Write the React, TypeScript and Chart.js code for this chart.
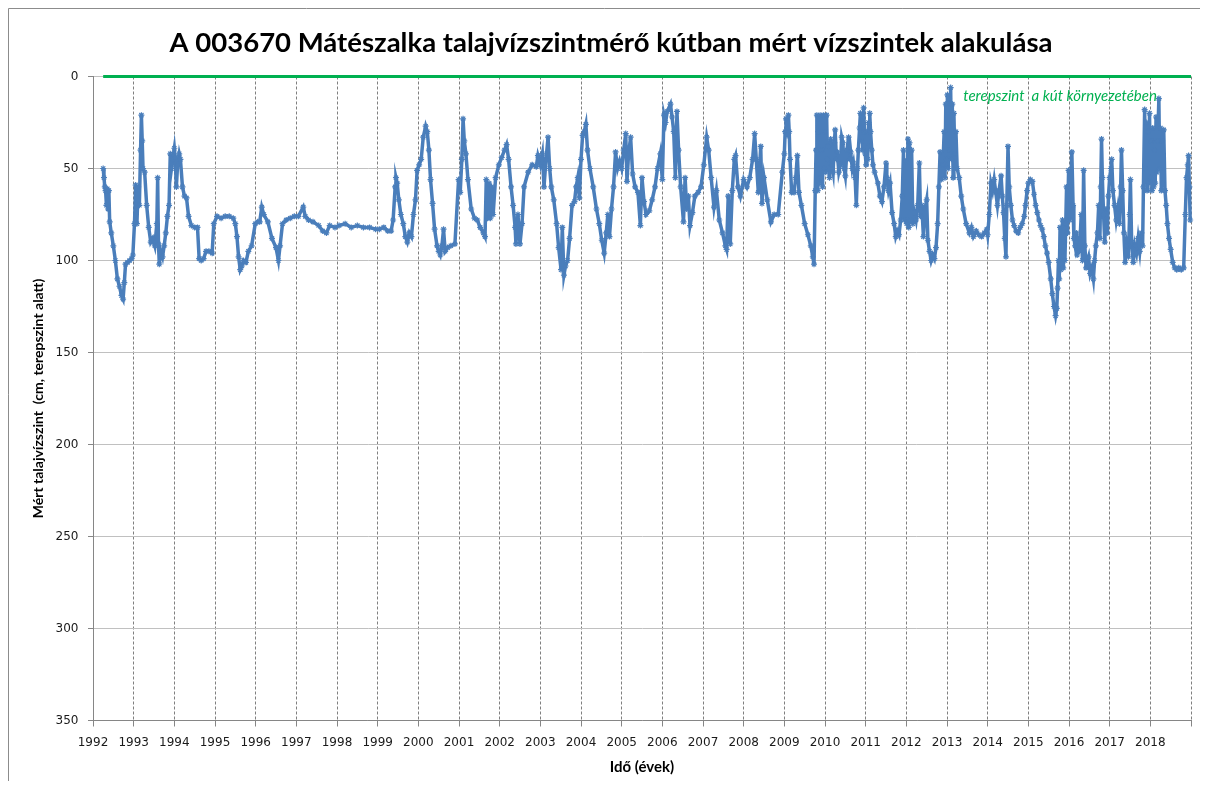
import React, { useEffect, useRef } from 'react';
import { Chart, registerables } from 'chart.js';

Chart.register(...registerables);

const chartTitle = 'A 003670 Mátészalka talajvízszintmérő kútban mért vízszintek alakulása';
const yAxisTitle = 'Mért talajvízszint  (cm, terepszint alatt)';
const xAxisTitle = 'Idő (évek)';
const groundLabel = 'terepszint  a kút környezetében';
const groundLabelYear = 2013.4;
const groundLabelDepth = 10.5;

const yearTicks = [
  1992, 1993, 1994, 1995, 1996, 1997, 1998, 1999, 2000, 2001, 2002, 2003, 2004, 2005,
  2006, 2007, 2008, 2009, 2010, 2011, 2012, 2013, 2014, 2015, 2016, 2017, 2018, 2019,
];
const depthTicks = [0, 50, 100, 150, 200, 250, 300, 350];

const groundYears = [1992.25, 2019];
const groundDepths = [0, 0];

// Period 1992 - 2000
const years1992to2000 = [
  1992.25, 1992.27, 1992.29, 1992.31, 1992.33, 1992.35, 1992.37, 1992.39, 1992.41, 1992.45,
  1992.5, 1992.55, 1992.6, 1992.65, 1992.7, 1992.74, 1992.77, 1992.8, 1992.85, 1992.9,
  1992.95, 1992.98, 1993.02, 1993.05, 1993.08, 1993.11, 1993.14, 1993.17, 1993.19, 1993.21,
  1993.23, 1993.27, 1993.32, 1993.37, 1993.42, 1993.47, 1993.52, 1993.57, 1993.59, 1993.61,
  1993.63, 1993.67, 1993.71, 1993.75, 1993.79, 1993.83, 1993.87, 1993.9, 1993.93, 1993.96,
  1994.0, 1994.02, 1994.05, 1994.08, 1994.12, 1994.15, 1994.2, 1994.25, 1994.3, 1994.35,
  1994.42, 1994.5, 1994.57, 1994.61, 1994.66, 1994.72, 1994.78, 1994.85, 1994.93, 1994.97,
  1995.05, 1995.15, 1995.25, 1995.35, 1995.45, 1995.5, 1995.54, 1995.58, 1995.62, 1995.66,
  1995.7, 1995.76, 1995.82, 1995.9, 1995.99, 1996.05, 1996.1, 1996.15, 1996.2, 1996.3,
  1996.4, 1996.5, 1996.56, 1996.6, 1996.66, 1996.75, 1996.85, 1996.95, 1997.05, 1997.17,
  1997.22, 1997.3, 1997.41, 1997.55, 1997.65, 1997.74, 1997.82, 1997.95, 1998.05, 1998.2,
  1998.35, 1998.5, 1998.65, 1998.8, 1998.95, 1999.04, 1999.15, 1999.25, 1999.33, 1999.38,
  1999.43, 1999.45, 1999.48, 1999.52, 1999.57, 1999.63, 1999.68, 1999.73, 1999.78, 1999.83,
  1999.88, 1999.93, 1999.97,
];
const depths1992to2000 = [
  50, 55, 60, 62, 70, 61, 72, 62, 79, 85,
  92, 100, 110, 114, 119, 121, 112, 102, 101, 100,
  99, 97, 80, 59, 80, 60, 70, 40, 21, 35,
  50, 52, 70, 82, 90, 88, 92, 80, 55, 91,
  102, 95, 98, 92, 85, 76, 70, 42, 50, 45,
  39, 44, 60, 48, 42, 45, 60, 65, 66, 76,
  81, 82, 82, 99, 100, 99, 95, 95, 96, 80,
  76, 77, 76, 76, 77, 80, 87, 98, 105, 103,
  100, 101, 95, 92, 80, 79, 79, 71, 75, 79,
  88, 93, 100, 92, 80, 78, 77, 76, 76, 71,
  76, 78, 79, 81, 84, 85, 81, 82, 81, 80,
  82, 81, 82, 82, 83, 83, 82, 84, 84, 78,
  60, 55, 58, 67, 75, 80, 87, 90, 85, 87,
  75, 67, 51,
];

// Period 2000 - 2009
const years2000to2009 = [
  2000.02, 2000.07, 2000.12, 2000.18, 2000.22, 2000.26, 2000.3,
  2000.35, 2000.4, 2000.46, 2000.5, 2000.54, 2000.58, 2000.62, 2000.66, 2000.72, 2000.8,
  2000.9, 2000.99, 2001.03, 2001.07, 2001.1, 2001.13, 2001.17, 2001.22, 2001.3, 2001.38,
  2001.45, 2001.52, 2001.6, 2001.64, 2001.67, 2001.7, 2001.74, 2001.77, 2001.8, 2001.84,
  2001.9, 2001.98, 2002.05, 2002.12, 2002.17, 2002.22, 2002.28, 2002.33, 2002.38, 2002.4,
  2002.45, 2002.5, 2002.55, 2002.6, 2002.7, 2002.8, 2002.9, 2002.94, 2003.0, 2003.05,
  2003.09, 2003.14, 2003.19, 2003.23, 2003.27, 2003.33, 2003.4, 2003.45, 2003.51, 2003.54,
  2003.58, 2003.62, 2003.67, 2003.72, 2003.78, 2003.84, 2003.88, 2003.92, 2003.96, 2004.0,
  2004.04, 2004.08, 2004.12, 2004.16, 2004.22, 2004.3, 2004.38, 2004.45, 2004.51, 2004.57,
  2004.62, 2004.66, 2004.7, 2004.75, 2004.8, 2004.85, 2004.9, 2004.95, 2005.0, 2005.05,
  2005.1, 2005.13, 2005.17, 2005.22, 2005.27, 2005.33, 2005.4, 2005.46, 2005.5, 2005.55,
  2005.6, 2005.68, 2005.75, 2005.82, 2005.88, 2005.95, 2006.0, 2006.04, 2006.08, 2006.12,
  2006.2, 2006.24, 2006.28, 2006.32, 2006.36, 2006.4, 2006.45, 2006.52, 2006.56, 2006.6,
  2006.64, 2006.68, 2006.74, 2006.8, 2006.88, 2006.95, 2007.02, 2007.09, 2007.14, 2007.2,
  2007.27, 2007.33, 2007.4, 2007.48, 2007.55, 2007.58, 2007.62, 2007.67, 2007.72, 2007.77,
  2007.8, 2007.86, 2007.92, 2008.0, 2008.08, 2008.15, 2008.22, 2008.27, 2008.31, 2008.36,
  2008.39, 2008.42, 2008.45, 2008.5, 2008.58, 2008.67, 2008.75, 2008.85,
];
const depths2000to2009 = [
  48, 45, 33, 27, 30, 40, 56,
  69, 83, 92, 95, 97, 92, 83, 95, 93, 92,
  91, 56, 63, 45, 23, 35, 42, 56, 72, 77,
  78, 82, 85, 87, 56, 77, 58, 77, 60, 75,
  55, 48, 44, 40, 37, 45, 60, 70, 82, 91,
  75, 91, 80, 60, 52, 48, 49, 43, 48, 42,
  60, 45, 33, 50, 60, 67, 80, 93, 105, 82,
  108, 103, 100, 88, 70, 68, 60, 55, 66, 45,
  32, 30, 26, 40, 50, 60, 72, 80, 89, 96,
  85, 75, 87, 72, 60, 41, 50, 46, 50, 40,
  31, 57, 42, 33, 53, 60, 63, 81, 55, 68,
  75, 73, 67, 60, 50, 42, 56, 21, 25, 19,
  15, 22, 30, 55, 19, 40, 60, 79, 55, 72,
  65, 81, 74, 65, 63, 60, 48, 33, 40, 55,
  71, 62, 78, 85, 92, 94, 65, 91, 62, 45,
  43, 60, 65, 56, 60, 55, 45, 31, 45, 63,
  50, 38, 69, 55, 67, 79, 75, 75,
];

// Period 2009 - 2014
const years2009to2014 = [
  2008.95, 2009.0, 2009.02, 2009.04, 2009.07, 2009.1, 2009.12, 2009.14, 2009.18, 2009.24,
  2009.28, 2009.32, 2009.36, 2009.42, 2009.5, 2009.58, 2009.65, 2009.7, 2009.73, 2009.76,
  2009.78, 2009.8, 2009.82, 2009.84, 2009.86, 2009.88, 2009.9, 2009.92, 2009.94, 2009.96,
  2009.98, 2010.0, 2010.02, 2010.04, 2010.06, 2010.08, 2010.11, 2010.14, 2010.17, 2010.2,
  2010.23, 2010.25, 2010.28, 2010.3, 2010.34, 2010.38, 2010.41, 2010.44, 2010.47, 2010.5,
  2010.54, 2010.58, 2010.61, 2010.63, 2010.67, 2010.7, 2010.74, 2010.77, 2010.8, 2010.82,
  2010.85, 2010.87, 2010.89, 2010.91, 2010.93, 2010.95, 2010.97, 2010.99, 2011.01, 2011.03,
  2011.05, 2011.07, 2011.09, 2011.1, 2011.12, 2011.15, 2011.18, 2011.22, 2011.3, 2011.35,
  2011.4, 2011.45, 2011.5, 2011.52, 2011.56, 2011.6, 2011.65, 2011.7, 2011.74, 2011.78,
  2011.82, 2011.86, 2011.9, 2011.93, 2011.95, 2011.98, 2012.01, 2012.04, 2012.06, 2012.08,
  2012.1, 2012.13, 2012.16, 2012.2, 2012.24, 2012.28, 2012.32, 2012.35, 2012.38, 2012.42,
  2012.46, 2012.5, 2012.53, 2012.57, 2012.61, 2012.65, 2012.69, 2012.73, 2012.77, 2012.8,
  2012.83, 2012.86, 2012.9, 2012.93, 2012.95, 2012.97, 2012.99, 2013.01, 2013.03, 2013.05,
  2013.07, 2013.09, 2013.11, 2013.13, 2013.15, 2013.17, 2013.19, 2013.22, 2013.25, 2013.3,
  2013.35, 2013.4, 2013.47, 2013.55, 2013.6, 2013.65, 2013.72, 2013.78, 2013.85, 2013.92,
  2013.98,
];
const depths2009to2014 = [
  52, 42, 30, 23, 32, 21, 30, 45, 63, 63,
  55, 43, 63, 70, 80, 86, 92, 98, 102, 62,
  40, 21, 62, 30, 58, 21, 55, 40, 60, 21,
  50, 30, 52, 21, 45, 38, 55, 34, 48, 52,
  36, 29, 45, 41, 52, 48, 33, 36, 50, 54,
  40, 33, 45, 41, 50, 47, 55, 70, 50, 40,
  28, 20, 35, 22, 40, 17, 30, 42, 48, 30,
  45, 25, 38, 20, 30, 40, 48, 52, 58, 65,
  68, 60, 47, 55, 62, 58, 74, 80, 87, 84,
  86, 78, 65, 40, 78, 46, 80, 34, 82, 36,
  78, 40, 80, 74, 78, 70, 47, 76, 70, 87,
  72, 67, 89, 95, 100, 97, 99, 93, 80, 60,
  41, 56, 48, 30, 55, 15, 45, 10, 50, 12,
  40, 6, 45, 15, 55, 20, 42, 30, 50, 55,
  65, 72, 80, 85, 82, 87, 84, 86, 87, 85,
  83,
];

// Period 2014 - 2019
const years2014to2019 = [
  2014.0, 2014.04, 2014.08, 2014.12, 2014.16, 2014.2, 2014.24, 2014.28, 2014.33, 2014.36,
  2014.39, 2014.42, 2014.45, 2014.47, 2014.5, 2014.53, 2014.57, 2014.61, 2014.65, 2014.7,
  2014.75, 2014.8, 2014.85, 2014.9, 2014.93, 2014.97, 2015.0, 2015.05, 2015.1, 2015.14,
  2015.18, 2015.22, 2015.26, 2015.3, 2015.34, 2015.38, 2015.42, 2015.46, 2015.5, 2015.55,
  2015.59, 2015.63, 2015.67, 2015.7, 2015.72, 2015.74, 2015.76, 2015.78, 2015.8, 2015.82,
  2015.84, 2015.86, 2015.88, 2015.9, 2015.92, 2015.94, 2015.96, 2015.99, 2016.02, 2016.04,
  2016.07, 2016.1, 2016.12, 2016.15, 2016.18, 2016.2, 2016.23, 2016.26, 2016.3, 2016.33,
  2016.36, 2016.39, 2016.42, 2016.44, 2016.48, 2016.52, 2016.56, 2016.6, 2016.63, 2016.66,
  2016.7, 2016.73, 2016.76, 2016.78, 2016.8, 2016.82, 2016.85, 2016.88, 2016.91, 2016.94,
  2016.97, 2017.0, 2017.03, 2017.05, 2017.08, 2017.12, 2017.16, 2017.2, 2017.24, 2017.27,
  2017.29, 2017.32, 2017.35, 2017.38, 2017.42, 2017.46, 2017.49, 2017.51, 2017.54, 2017.58,
  2017.62, 2017.66, 2017.7, 2017.74, 2017.78, 2017.81, 2017.83, 2017.86, 2017.88, 2017.9,
  2017.92, 2017.94, 2017.96, 2017.98, 2018.0, 2018.02, 2018.04, 2018.06, 2018.08, 2018.1,
  2018.12, 2018.14, 2018.16, 2018.18, 2018.21, 2018.23, 2018.25, 2018.27, 2018.29, 2018.31,
  2018.33, 2018.36, 2018.39, 2018.42, 2018.46, 2018.5, 2018.55, 2018.6, 2018.65, 2018.7,
  2018.76, 2018.82, 2018.86, 2018.89, 2018.92, 2018.94, 2018.96, 2018.98,
];
const depths2014to2019 = [
  86, 75, 58, 62, 56, 63, 70, 62, 54, 65,
  74, 88, 98, 70, 38, 60, 70, 78, 81, 84,
  85, 82, 80, 76, 70, 62, 58, 56, 57, 64,
  70, 74, 78, 81, 83, 87, 92, 96, 101, 110,
  118, 125, 130, 126, 115, 100, 110, 82, 105, 95,
  78, 104, 90, 100, 80, 60, 85, 51, 78, 60,
  41, 70, 88, 92, 85, 97, 88, 95, 75, 100,
  51, 92, 104, 101, 98, 107, 104, 110, 100, 92,
  85, 70, 88, 60, 34, 55, 75, 90, 72, 85,
  65, 55, 50, 45, 62, 70, 78, 72, 80, 60,
  40, 62, 85, 101, 92, 98, 75, 56, 90, 101,
  92, 96, 88, 95, 85, 92, 60, 18, 50, 25,
  62, 30, 58, 20, 55, 35, 62, 28, 60, 40,
  58, 22, 52, 35, 12, 50, 28, 62, 35, 58,
  29, 62, 70, 80, 88, 94, 101, 104, 105, 104,
  105, 104, 75, 55, 48, 43, 60, 78,
];

const sampleYears = [...years1992to2000, ...years2000to2009, ...years2009to2014, ...years2014to2019];
const depthValues = [...depths1992to2000, ...depths2000to2009, ...depths2009to2014, ...depths2014to2019];

const framePlugin = {
  id: 'frameAndLabels',
  beforeDraw(chart: any) {
    const { ctx, width, height } = chart;
    ctx.save();
    ctx.fillStyle = '#ffffff';
    ctx.fillRect(0, 0, width, height);
    ctx.strokeStyle = '#8c8c8c';
    ctx.lineWidth = 1;
    ctx.beginPath();
    ctx.moveTo(0.5, height);
    ctx.lineTo(0.5, 0.5);
    ctx.lineTo(width, 0.5);
    ctx.stroke();
    ctx.font = 'bold 27.5px Lato';
    ctx.fillStyle = '#000000';
    ctx.textAlign = 'center';
    ctx.textBaseline = 'middle';
    ctx.fillText(chartTitle, width / 2 + 7, 35);
    ctx.restore();
  },
  afterDatasetsDraw(chart: any) {
    const { ctx, scales } = chart;
    const x = scales.x.getPixelForValue(groundLabelYear);
    const y = scales.y.getPixelForValue(groundLabelDepth);
    ctx.save();
    ctx.font = 'italic 15px Lato';
    ctx.fillStyle = '#00b050';
    ctx.textAlign = 'left';
    ctx.textBaseline = 'middle';
    ctx.fillText(groundLabel, x, y);
    ctx.restore();
  },
};

export default function App() {
  const canvasRef = useRef<HTMLCanvasElement | null>(null);

  useEffect(() => {
    if (!canvasRef.current) return;
    const blueData = sampleYears.map((x, i) => ({ x, y: depthValues[i] }));
    const greenData = groundYears.map((x, i) => ({ x, y: groundDepths[i] }));
    const chart = new Chart(canvasRef.current, {
      type: 'line',
      data: {
        datasets: [
          {
            label: 'terepszint',
            data: greenData,
            borderColor: '#00b050',
            backgroundColor: '#00b050',
            borderWidth: 3,
            pointRadius: 0,
            clip: 6,
          } as any,
          {
            label: 'vízszint',
            data: blueData,
            borderColor: '#4a7ebb',
            backgroundColor: '#4a7ebb',
            borderWidth: 3.5,
            pointStyle: 'star',
            pointRadius: 3,
            pointBorderWidth: 1.2,
            pointBorderColor: '#4a7ebb',
            tension: 0,
            clip: 6,
          } as any,
        ],
      },
      options: {
        animation: false,
        responsive: false,
        layout: { padding: { left: 0, right: 1, top: 68.5, bottom: 0 } },
        plugins: {
          legend: { display: false },
          tooltip: { enabled: false },
          title: { display: false },
        },
        scales: {
          x: {
            type: 'linear',
            min: 1992,
            max: 2019,
            afterBuildTicks: (scale: any) => {
              scale.ticks = yearTicks.map((v) => ({ value: v }));
            },
            afterFit: (scale: any) => {
              scale.height = 60.5;
            },
            ticks: {
              autoSkip: false,
              maxRotation: 0,
              minRotation: 0,
              padding: 9,
              color: '#1a1a1a',
              font: { family: 'DejaVu Sans', size: 12 },
              callback: (v: any) => (v === 2019 ? '' : String(v)),
            },
            grid: {
              color: '#7f7f7f',
              lineWidth: 1,
              tickLength: 6,
              tickColor: '#868686',
              tickBorderDash: [],
            },
            border: { display: true, color: '#868686', width: 1, dash: [3, 2] },
            title: {
              display: true,
              text: xAxisTitle,
              color: '#000000',
              font: { family: 'Lato', size: 15, weight: 'bold' },
              padding: { top: 4, bottom: 5 },
            },
          },
          y: {
            type: 'linear',
            reverse: true,
            min: 0,
            max: 350,
            afterBuildTicks: (scale: any) => {
              scale.ticks = depthTicks.map((v) => ({ value: v }));
            },
            afterFit: (scale: any) => {
              scale.width = 85;
            },
            ticks: {
              padding: 9.5,
              color: '#1a1a1a',
              font: { family: 'DejaVu Sans', size: 12 },
            },
            grid: {
              color: '#c0c0c0',
              lineWidth: 1,
              tickLength: 5,
              tickColor: '#868686',
            },
            border: { display: true, color: '#868686', width: 1, dash: [] },
            title: {
              display: true,
              text: yAxisTitle,
              color: '#000000',
              font: { family: 'Lato', size: 14, weight: 'bold' },
              padding: { top: 21.6, bottom: 0 },
            },
          },
        },
      },
      plugins: [framePlugin],
    });
    return () => chart.destroy();
  }, []);

  return (
    <div style={{ width: 1192, height: 773 }}>
      <canvas ref={canvasRef} width={1192} height={773} style={{ display: 'block' }} />
    </div>
  );
}
